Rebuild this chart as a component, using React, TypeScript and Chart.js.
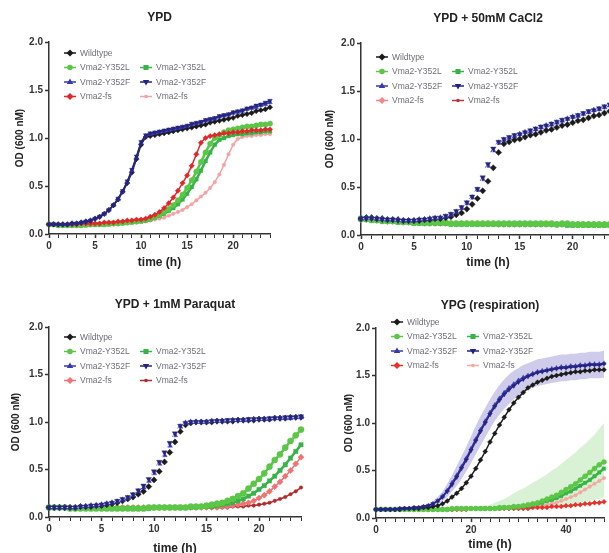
import React, { useEffect, useRef } from 'react';
import { Chart, registerables } from 'chart.js';

Chart.register(...registerables);

// ---------------- time axes ----------------
const HOURS_24 = [0,0.5,1,1.5,2,2.5,3,3.5,4,4.5,5,5.5,6,6.5,7,7.5,8,8.5,9,9.5,10,10.5,11,11.5,12,12.5,13,13.5,14,14.5,15,15.5,16,16.5,17,17.5,18,18.5,19,19.5,20,20.5,21,21.5,22,22.5,23,23.5,24];
const HOURS_48 = [0,1,2,3,4,5,6,7,8,9,10,11,12,13,14,15,16,17,18,19,20,21,22,23,24,25,26,27,28,29,30,31,32,33,34,35,36,37,38,39,40,41,42,43,44,45,46,47,48];

const LEGEND_LABELS = ['Wildtype', 'Vma2-Y352L', 'Vma2-Y352F', 'Vma2-fs'];
const PANEL_TITLES = ['YPD', 'YPD + 50mM CaCl2', 'YPD + 1mM Paraquat', 'YPG (respiration)'];
const X_TITLE = 'time (h)';
const Y_TITLE = 'OD (600 nM)';

// ---------------- YPD ----------------
const YPD_WT = [0.10,0.10,0.10,0.10,0.10,0.11,0.11,0.12,0.13,0.14, 0.16,0.18,0.21,0.25,0.30,0.36,0.44,0.53,0.64,0.78, 0.93,1.01,1.02,1.03,1.04,1.05,1.06,1.07,1.08,1.09, 1.10,1.11,1.12,1.13,1.14,1.16,1.17,1.18,1.19,1.20, 1.21,1.23,1.24,1.25,1.26,1.28,1.29,1.30,1.32];
const YPD_Y352L_A = [0.10,0.10,0.09,0.09,0.09,0.09,0.09,0.09,0.10,0.10, 0.10,0.10,0.10,0.11,0.11,0.11,0.12,0.12,0.13,0.13, 0.14,0.15,0.16,0.18,0.20,0.23,0.26,0.30,0.35,0.41, 0.48,0.56,0.65,0.75,0.85,0.94,1.00,1.03,1.06,1.08, 1.09,1.10,1.11,1.12,1.12,1.13,1.14,1.14,1.15];
const YPD_Y352L_B = [0.10,0.10,0.09,0.09,0.09,0.09,0.09,0.09,0.09,0.10, 0.10,0.10,0.10,0.10,0.11,0.11,0.11,0.12,0.12,0.13, 0.13,0.14,0.15,0.17,0.19,0.21,0.24,0.27,0.31,0.36, 0.42,0.49,0.57,0.66,0.76,0.85,0.93,0.98,1.00,1.02, 1.03,1.04,1.04,1.05,1.05,1.06,1.06,1.07,1.07];
const YPD_Y352F_A = [0.10,0.10,0.10,0.10,0.10,0.11,0.11,0.12,0.13,0.14, 0.16,0.18,0.21,0.25,0.30,0.36,0.44,0.54,0.66,0.80, 0.95,1.02,1.04,1.05,1.06,1.07,1.08,1.09,1.10,1.11, 1.12,1.14,1.15,1.16,1.18,1.19,1.20,1.22,1.23,1.24, 1.26,1.27,1.28,1.30,1.31,1.32,1.34,1.35,1.37];
const YPD_Y352F_B = [0.10,0.10,0.10,0.10,0.10,0.11,0.11,0.12,0.13,0.14, 0.16,0.18,0.21,0.25,0.30,0.37,0.45,0.55,0.67,0.81, 0.96,1.03,1.05,1.06,1.07,1.08,1.09,1.10,1.11,1.12, 1.13,1.15,1.16,1.17,1.19,1.20,1.21,1.23,1.24,1.25, 1.27,1.28,1.29,1.31,1.32,1.34,1.35,1.37,1.39];
const YPD_FS_A = [0.10,0.10,0.10,0.10,0.10,0.10,0.10,0.11,0.11,0.11, 0.11,0.11,0.12,0.12,0.12,0.13,0.13,0.14,0.14,0.15, 0.15,0.16,0.18,0.20,0.23,0.27,0.32,0.38,0.45,0.53, 0.61,0.71,0.83,0.95,1.00,1.02,1.03,1.04,1.05,1.05, 1.06,1.06,1.07,1.07,1.08,1.08,1.08,1.09,1.09];
const YPD_FS_B = [0.10,0.10,0.09,0.09,0.09,0.09,0.09,0.09,0.09,0.09, 0.10,0.10,0.10,0.10,0.10,0.11,0.11,0.11,0.12,0.12, 0.13,0.13,0.14,0.15,0.16,0.17,0.19,0.21,0.23,0.25, 0.28,0.31,0.35,0.39,0.43,0.48,0.54,0.62,0.72,0.83, 0.93,0.99,1.01,1.02,1.02,1.03,1.03,1.04,1.04];

// ---------------- YPD + 50mM CaCl2 ----------------
const CACL2_WT = [0.17,0.18,0.18,0.17,0.17,0.16,0.16,0.16,0.15,0.15, 0.15,0.15,0.16,0.16,0.17,0.17,0.18,0.19,0.21,0.23, 0.27,0.32,0.38,0.46,0.56,0.70,0.86,0.95,0.97,0.99, 1.00,1.02,1.04,1.05,1.07,1.09,1.10,1.12,1.14,1.15, 1.17,1.19,1.20,1.22,1.24,1.25,1.27,1.29,1.30];
const CACL2_Y352L_A = [0.17,0.17,0.16,0.16,0.15,0.15,0.15,0.14,0.14,0.14, 0.13,0.13,0.13,0.13,0.13,0.13,0.13,0.12,0.12,0.12, 0.12,0.12,0.12,0.12,0.12,0.12,0.12,0.12,0.12,0.12, 0.12,0.12,0.12,0.12,0.12,0.12,0.12,0.11,0.12,0.12, 0.11,0.11,0.11,0.11,0.11,0.11,0.11,0.11,0.11];
const CACL2_Y352L_B = [0.16,0.16,0.15,0.15,0.14,0.14,0.14,0.13,0.13,0.13, 0.12,0.12,0.12,0.12,0.12,0.12,0.12,0.11,0.11,0.11, 0.11,0.11,0.11,0.11,0.11,0.11,0.11,0.11,0.11,0.11, 0.11,0.11,0.11,0.11,0.11,0.11,0.11,0.11,0.11,0.10, 0.10,0.10,0.10,0.10,0.10,0.10,0.10,0.10,0.10];
const CACL2_Y352F_A = [0.17,0.18,0.18,0.17,0.17,0.16,0.16,0.16,0.15,0.15, 0.15,0.16,0.16,0.17,0.17,0.18,0.19,0.21,0.24,0.28, 0.33,0.39,0.47,0.58,0.72,0.88,0.96,0.99,1.01,1.03, 1.05,1.07,1.08,1.10,1.12,1.14,1.15,1.17,1.19,1.21, 1.23,1.24,1.26,1.28,1.30,1.31,1.33,1.35,1.37];
const CACL2_Y352F_B = [0.17,0.17,0.17,0.17,0.16,0.16,0.16,0.15,0.15,0.15, 0.15,0.16,0.16,0.17,0.18,0.18,0.20,0.22,0.25,0.29, 0.34,0.40,0.48,0.60,0.74,0.90,0.97,1.00,1.02,1.04, 1.05,1.07,1.09,1.11,1.13,1.14,1.16,1.18,1.20,1.21, 1.23,1.25,1.27,1.29,1.30,1.32,1.34,1.36,1.38];
const CACL2_FS_A = [0.16,0.16,0.16,0.15,0.15,0.14,0.14,0.14,0.13,0.13, 0.13,0.13,0.12,0.12,0.12,0.12,0.12,0.12,0.12,0.12, 0.12,0.12,0.12,0.12,0.12,0.12,0.11,0.11,0.11,0.11, 0.11,0.11,0.11,0.11,0.11,0.11,0.11,0.11,0.11,0.11, 0.11,0.11,0.11,0.11,0.11,0.11,0.11,0.11,0.11];
const CACL2_FS_B = [0.16,0.16,0.15,0.15,0.15,0.14,0.14,0.14,0.13,0.13, 0.13,0.12,0.12,0.12,0.12,0.12,0.12,0.12,0.12,0.12, 0.12,0.12,0.12,0.11,0.11,0.11,0.11,0.11,0.11,0.11, 0.11,0.11,0.11,0.11,0.11,0.11,0.11,0.11,0.11,0.11, 0.11,0.10,0.10,0.10,0.10,0.10,0.10,0.10,0.10];

// ---------------- YPD + 1mM Paraquat ----------------
const PQ_WT = [0.10,0.10,0.10,0.10,0.10,0.10,0.11,0.11,0.11,0.12, 0.12,0.13,0.14,0.15,0.17,0.19,0.21,0.24,0.27,0.32, 0.39,0.48,0.58,0.68,0.79,0.90,0.97,0.99,1.00,1.00, 1.00,1.00,1.01,1.01,1.01,1.01,1.02,1.02,1.02,1.02, 1.03,1.03,1.03,1.04,1.04,1.04,1.05,1.05,1.05];
const PQ_Y352L_A = [0.10,0.10,0.10,0.10,0.09,0.09,0.09,0.09,0.09,0.09, 0.09,0.09,0.09,0.09,0.09,0.09,0.09,0.09,0.09,0.10, 0.10,0.10,0.10,0.10,0.10,0.10,0.10,0.11,0.11,0.11, 0.12,0.13,0.14,0.15,0.17,0.19,0.22,0.25,0.30,0.35, 0.40,0.46,0.53,0.60,0.66,0.73,0.80,0.86,0.92];
const PQ_Y352L_B = [0.10,0.10,0.10,0.10,0.09,0.09,0.09,0.09,0.09,0.09, 0.09,0.09,0.09,0.09,0.09,0.09,0.09,0.09,0.09,0.09, 0.10,0.10,0.10,0.10,0.10,0.10,0.10,0.10,0.10,0.11, 0.11,0.11,0.12,0.13,0.14,0.15,0.17,0.19,0.22,0.25, 0.29,0.33,0.38,0.43,0.49,0.55,0.62,0.69,0.76];
const PQ_Y352F_A = [0.10,0.10,0.10,0.10,0.10,0.10,0.11,0.11,0.12,0.12, 0.13,0.14,0.15,0.16,0.18,0.20,0.23,0.27,0.31,0.38, 0.46,0.56,0.65,0.75,0.86,0.95,0.99,1.00,1.00,1.00, 1.00,1.01,1.01,1.01,1.01,1.02,1.02,1.02,1.02,1.03, 1.03,1.03,1.03,1.04,1.04,1.04,1.04,1.05,1.05];
const PQ_Y352F_B = [0.10,0.10,0.10,0.10,0.10,0.10,0.11,0.11,0.12,0.12, 0.13,0.14,0.15,0.17,0.19,0.21,0.24,0.28,0.33,0.40, 0.48,0.58,0.68,0.78,0.88,0.96,0.99,1.00,1.00,1.00, 1.00,1.01,1.01,1.01,1.02,1.02,1.02,1.02,1.03,1.03, 1.03,1.03,1.04,1.04,1.04,1.05,1.05,1.05,1.06];
const PQ_FS_A = [0.10,0.10,0.10,0.10,0.10,0.10,0.10,0.10,0.10,0.10, 0.10,0.10,0.10,0.10,0.10,0.10,0.10,0.10,0.10,0.10, 0.10,0.10,0.10,0.10,0.10,0.10,0.10,0.10,0.10,0.10, 0.10,0.10,0.10,0.11,0.11,0.12,0.13,0.14,0.15,0.17, 0.20,0.23,0.27,0.32,0.37,0.43,0.49,0.56,0.63];
const PQ_FS_B = [0.10,0.10,0.10,0.10,0.10,0.10,0.10,0.10,0.10,0.10, 0.10,0.10,0.10,0.10,0.10,0.10,0.10,0.10,0.10,0.10, 0.10,0.10,0.10,0.10,0.10,0.10,0.10,0.10,0.10,0.10, 0.10,0.10,0.10,0.10,0.10,0.11,0.11,0.11,0.12,0.12, 0.13,0.14,0.15,0.17,0.19,0.21,0.24,0.27,0.31];

// ---------------- YPG (respiration) ----------------
const YPG_WT = [0.09,0.09,0.09,0.09,0.09,0.09,0.10,0.10,0.10,0.10, 0.11,0.11,0.12,0.13,0.15,0.18,0.22,0.26,0.31,0.37, 0.44,0.52,0.61,0.70,0.80,0.89,0.98,1.06,1.14,1.21, 1.27,1.32,1.37,1.40,1.43,1.45,1.47,1.49,1.50,1.51, 1.52,1.53,1.54,1.54,1.55,1.55,1.56,1.56,1.56];
const YPG_Y352L_A = [0.09,0.09,0.09,0.09,0.09,0.09,0.09,0.09,0.09,0.09, 0.09,0.09,0.09,0.09,0.09,0.09,0.10,0.10,0.10,0.10, 0.10,0.10,0.10,0.10,0.10,0.10,0.11,0.11,0.11,0.12, 0.12,0.13,0.14,0.15,0.16,0.18,0.20,0.22,0.24,0.27, 0.30,0.33,0.36,0.40,0.44,0.48,0.52,0.56,0.59];
const YPG_Y352L_B = [0.09,0.09,0.09,0.09,0.09,0.09,0.09,0.09,0.09,0.09, 0.09,0.09,0.09,0.09,0.09,0.09,0.09,0.10,0.10,0.10, 0.10,0.10,0.10,0.10,0.10,0.10,0.10,0.11,0.11,0.11, 0.12,0.12,0.13,0.14,0.15,0.16,0.18,0.19,0.21,0.23, 0.26,0.28,0.31,0.34,0.37,0.40,0.44,0.48,0.52];
const YPG_Y352L_UPPER = [0.10,0.10,0.10,0.10,0.10,0.10,0.10,0.10,0.10,0.10, 0.10,0.10,0.10,0.10,0.10,0.10,0.11,0.11,0.11,0.11, 0.11,0.11,0.12,0.13,0.14,0.16,0.18,0.20,0.23,0.26, 0.29,0.31,0.34,0.37,0.40,0.43,0.46,0.50,0.53,0.57, 0.61,0.65,0.69,0.74,0.78,0.83,0.88,0.94,1.00];
const YPG_Y352L_LOWER = [0.08,0.08,0.08,0.08,0.08,0.08,0.08,0.08,0.08,0.08, 0.08,0.08,0.08,0.08,0.08,0.08,0.09,0.09,0.09,0.09, 0.09,0.09,0.09,0.09,0.09,0.09,0.09,0.09,0.09,0.09, 0.09,0.09,0.10,0.10,0.10,0.11,0.11,0.12,0.12,0.13, 0.13,0.14,0.15,0.16,0.17,0.18,0.19,0.20,0.22];
const YPG_Y352F_A = [0.09,0.09,0.09,0.09,0.09,0.10,0.10,0.10,0.11,0.11, 0.12,0.13,0.15,0.18,0.23,0.29,0.37,0.45,0.54,0.63, 0.73,0.83,0.93,1.02,1.11,1.19,1.26,1.32,1.37,1.41, 1.45,1.48,1.50,1.52,1.54,1.55,1.56,1.57,1.58,1.59, 1.59,1.60,1.60,1.61,1.61,1.62,1.62,1.62,1.63];
const YPG_Y352F_B = [0.09,0.09,0.09,0.09,0.09,0.10,0.10,0.10,0.11,0.11, 0.12,0.13,0.15,0.18,0.22,0.28,0.35,0.43,0.52,0.61, 0.71,0.81,0.91,1.00,1.09,1.17,1.24,1.30,1.35,1.39, 1.43,1.46,1.49,1.51,1.53,1.54,1.55,1.56,1.57,1.58, 1.58,1.59,1.59,1.60,1.60,1.61,1.61,1.61,1.62];
const YPG_Y352F_UPPER = [0.10,0.10,0.10,0.10,0.10,0.11,0.11,0.11,0.12,0.12, 0.13,0.15,0.18,0.22,0.28,0.36,0.45,0.55,0.65,0.75, 0.86,0.97,1.07,1.16,1.25,1.33,1.40,1.46,1.51,1.55, 1.58,1.61,1.63,1.65,1.67,1.68,1.69,1.70,1.71,1.72, 1.72,1.73,1.73,1.74,1.74,1.75,1.75,1.75,1.76];
const YPG_Y352F_LOWER = [0.08,0.08,0.08,0.08,0.08,0.09,0.09,0.09,0.10,0.10, 0.11,0.12,0.13,0.15,0.18,0.22,0.28,0.34,0.41,0.49, 0.58,0.67,0.76,0.85,0.94,1.02,1.09,1.15,1.20,1.25, 1.29,1.32,1.35,1.37,1.39,1.40,1.41,1.42,1.43,1.44, 1.44,1.45,1.45,1.46,1.46,1.47,1.47,1.47,1.48];
const YPG_FS_A = [0.09,0.09,0.09,0.09,0.09,0.09,0.09,0.09,0.09,0.09, 0.09,0.09,0.09,0.09,0.09,0.09,0.09,0.09,0.09,0.09, 0.10,0.10,0.10,0.10,0.10,0.10,0.10,0.10,0.10,0.10, 0.10,0.10,0.10,0.11,0.11,0.11,0.11,0.12,0.12,0.12, 0.13,0.13,0.14,0.14,0.15,0.15,0.16,0.16,0.17];
const YPG_FS_B = [0.09,0.09,0.09,0.09,0.09,0.09,0.09,0.09,0.09,0.09, 0.09,0.09,0.09,0.09,0.09,0.09,0.09,0.09,0.09,0.09, 0.10,0.10,0.10,0.10,0.10,0.10,0.10,0.10,0.10,0.10, 0.10,0.11,0.11,0.12,0.12,0.13,0.14,0.15,0.16,0.18, 0.20,0.22,0.24,0.27,0.30,0.33,0.36,0.39,0.42];

// ---------------- styling ----------------
const FONT = '"Liberation Sans", Arial, Helvetica, sans-serif';
const AXIS = '#333333';
const BLACK = '#1b1b1b';
const GREEN_A = '#5cc646';
const GREEN_B = '#38b34a';
const BLUE_A = '#3838b0';
const BLUE_B = '#25257f';
const WHITE_LINE = 'rgba(255,255,255,0.9)';

type Series = {
  label: string; data: number[]; color: string; lineColor?: string;
  style: string; rotation?: number; order: number; col: number; row: number; width?: number; radius?: number;
};
type Band = { upper: number[]; lower: number[]; color: string };
type Panel = {
  title: string; hours: number[]; xMax: number; xStep: number; xLabelEvery: number;
  series: Series[]; bands: Band[];
  box: { left: number; top: number; w: number; h: number };
  area: { L: number; T: number; R: number; B: number };
  xH: number; yTitlePad: number; titleDy: number; legendDy: number; pointR: number;
};

function makeSeries(
  wt: number[], la: number[], lb: number[], fa: number[], fb: number[], sa: number[], sb: number[],
  fsA: string, fsB: string, whiteLines: boolean, order: number[]
): Series[] {
  return [
    { label: LEGEND_LABELS[0], data: wt, color: BLACK, lineColor: whiteLines ? WHITE_LINE : undefined, style: 'rectRot', order: order[0], col: 0, row: 0 },
    { label: LEGEND_LABELS[1], data: la, color: GREEN_A, style: 'circle', order: order[1], col: 0, row: 1, width: 2.5 },
    { label: LEGEND_LABELS[1], data: lb, color: GREEN_B, style: 'rect', order: order[2], col: 1, row: 1, width: 2.5 },
    { label: LEGEND_LABELS[2], data: fa, color: BLUE_A, lineColor: whiteLines ? WHITE_LINE : undefined, style: 'triangle', order: order[3], col: 0, row: 2 },
    { label: LEGEND_LABELS[2], data: fb, color: BLUE_B, lineColor: whiteLines ? WHITE_LINE : undefined, style: 'triangle', rotation: 180, order: order[4], col: 1, row: 2 },
    { label: LEGEND_LABELS[3], data: sa, color: fsA, style: 'rectRot', order: order[5], col: 0, row: 3 },
    { label: LEGEND_LABELS[3], data: sb, color: fsB, style: 'circle', order: order[6], col: 1, row: 3, radius: 1.8 },
  ];
}

const PANELS: Panel[] = [
  {
    title: PANEL_TITLES[0], hours: HOURS_24, xMax: 24, xStep: 1, xLabelEvery: 5,
    series: makeSeries(YPD_WT, YPD_Y352L_A, YPD_Y352L_B, YPD_Y352F_A, YPD_Y352F_B, YPD_FS_A, YPD_FS_B, '#e2262a', '#f4a3a3', false, [3, 5, 6, 2, 1, 4, 7]),
    bands: [],
    box: { left: 0, top: 0, w: 300, h: 276 }, area: { L: 49, T: 42, R: 270, B: 234 },
    xH: 36, yTitlePad: 5, titleDy: 24, legendDy: 11, pointR: 2.7,
  },
  {
    title: PANEL_TITLES[1], hours: HOURS_24, xMax: 24, xStep: 1, xLabelEvery: 5,
    series: makeSeries(CACL2_WT, CACL2_Y352L_A, CACL2_Y352L_B, CACL2_Y352F_A, CACL2_Y352F_B, CACL2_FS_A, CACL2_FS_B, '#f08a8a', '#b5393a', true, [3, 4, 5, 2, 1, 6, 7]),
    bands: [],
    box: { left: 310, top: 0, w: 320, h: 276 }, area: { L: 361, T: 43, R: 615, B: 235 },
    xH: 35, yTitlePad: 3, titleDy: 24, legendDy: 14, pointR: 3.1,
  },
  {
    title: PANEL_TITLES[2], hours: HOURS_24, xMax: 24, xStep: 1, xLabelEvery: 5,
    series: makeSeries(PQ_WT, PQ_Y352L_A, PQ_Y352L_B, PQ_Y352F_A, PQ_Y352F_B, PQ_FS_A, PQ_FS_B, '#f07272', '#b02a2c', true, [3, 4, 5, 2, 1, 6, 7]),
    bands: [],
    box: { left: 0, top: 280, w: 305, h: 280 }, area: { L: 49, T: 327, R: 301, B: 517 },
    xH: 39, yTitlePad: 1, titleDy: 22, legendDy: 10, pointR: 3.1,
  },
  {
    title: PANEL_TITLES[3], hours: HOURS_48, xMax: 48, xStep: 2, xLabelEvery: 20,
    series: makeSeries(YPG_WT, YPG_Y352L_A, YPG_Y352L_B, YPG_Y352F_A, YPG_Y352F_B, YPG_FS_A, YPG_FS_B, '#e8302a', '#f3a8a0', false, [3, 4, 5, 2, 1, 6, 7]),
    bands: [
      { upper: YPG_Y352F_UPPER, lower: YPG_Y352F_LOWER, color: 'rgba(125,120,200,0.38)' },
      { upper: YPG_Y352L_UPPER, lower: YPG_Y352L_LOWER, color: 'rgba(130,210,115,0.30)' },
    ],
    box: { left: 310, top: 280, w: 299, h: 273 }, area: { L: 376, T: 328, R: 604, B: 518 },
    xH: 34, yTitlePad: 7, titleDy: 22, legendDy: -6, pointR: 2.5,
  },
];

function drawMarker(ctx: CanvasRenderingContext2D, style: string, rotation: number, x: number, y: number, r: number, color: string) {
  ctx.save();
  ctx.fillStyle = color;
  ctx.translate(x, y);
  ctx.rotate((rotation * Math.PI) / 180);
  ctx.beginPath();
  if (style === 'circle') ctx.arc(0, 0, r, 0, Math.PI * 2);
  else if (style === 'rect') ctx.rect(-r * 0.9, -r * 0.9, r * 1.8, r * 1.8);
  else if (style === 'rectRot') { ctx.moveTo(0, -r * 1.25); ctx.lineTo(r * 1.25, 0); ctx.lineTo(0, r * 1.25); ctx.lineTo(-r * 1.25, 0); ctx.closePath(); }
  else if (style === 'triangle') { ctx.moveTo(0, -r * 1.25); ctx.lineTo(r * 1.15, r * 0.75); ctx.lineTo(-r * 1.15, r * 0.75); ctx.closePath(); }
  ctx.fill();
  ctx.restore();
}

function decoPlugin(panel: Panel) {
  return {
    id: 'deco',
    afterDraw(chart: any) {
      const { ctx, chartArea } = chart;
      ctx.save();
      ctx.font = `bold 12px ${FONT}`;
      ctx.fillStyle = '#222';
      ctx.textAlign = 'center';
      ctx.textBaseline = 'middle';
      ctx.fillText(panel.title, (chartArea.left + chartArea.right) / 2, chartArea.top - panel.titleDy);
      ctx.font = `8.5px ${FONT}`;
      ctx.textAlign = 'left';
      panel.series.forEach((s) => {
        const mx = chartArea.left + (s.col === 0 ? 21 : 97);
        const y = chartArea.top + panel.legendDy + s.row * 14.5;
        ctx.strokeStyle = s.color;
        ctx.lineWidth = 1.5;
        ctx.beginPath();
        ctx.moveTo(mx - 6, y);
        ctx.lineTo(mx + 6, y);
        ctx.stroke();
        drawMarker(ctx, s.style, s.rotation ?? 0, mx, y, s.radius ?? 2.8, s.color);
        ctx.fillStyle = '#6e6e78';
        ctx.fillText(s.label, mx + 10, y + 0.5);
      });
      ctx.restore();
    },
  };
}

function PanelChart({ panel }: { panel: Panel }) {
  const ref = useRef<HTMLCanvasElement>(null);
  useEffect(() => {
    const { box, area } = panel;
    const datasets: any[] = [];
    panel.series.forEach((s) => {
      datasets.push({
        label: s.label,
        data: panel.hours.map((t, i) => ({ x: t, y: s.data[i] })),
        borderColor: s.lineColor ?? s.color,
        borderWidth: s.lineColor ? 1 : s.width ?? 1.5,
        backgroundColor: s.color,
        pointStyle: s.style,
        pointRotation: s.rotation ?? 0,
        pointRadius: s.radius ? Math.min(s.radius, panel.pointR) : panel.pointR,
        pointBackgroundColor: s.color,
        pointBorderColor: s.color,
        pointBorderWidth: 0.4,
        order: s.order,
        fill: false,
        tension: 0,
        clip: 6,
      });
    });
    panel.bands.forEach((b, k) => {
      datasets.push({
        data: panel.hours.map((t, i) => ({ x: t, y: b.upper[i] })),
        borderWidth: 0, pointRadius: 0, backgroundColor: b.color, borderColor: 'rgba(0,0,0,0)',
        fill: '+1', order: 20 + k * 2,
      });
      datasets.push({
        data: panel.hours.map((t, i) => ({ x: t, y: b.lower[i] })),
        borderWidth: 0, pointRadius: 0, borderColor: 'rgba(0,0,0,0)', fill: false, order: 21 + k * 2,
      });
    });
    const yW = 40;
    const chart = new Chart(ref.current as HTMLCanvasElement, {
      type: 'line',
      data: { datasets },
      plugins: [decoPlugin(panel)],
      options: {
        animation: false,
        responsive: false,
        devicePixelRatio: 1,
        events: [],
        layout: {
          autoPadding: false,
          padding: {
            left: area.L - box.left - yW,
            top: area.T - box.top,
            right: box.left + box.w - area.R,
            bottom: box.top + box.h - area.B - panel.xH,
          },
        },
        plugins: { legend: { display: false }, tooltip: { enabled: false }, title: { display: false } },
        scales: {
          x: {
            type: 'linear', min: 0, max: panel.xMax,
            border: { display: true, color: AXIS, width: 1.5 },
            grid: {
              drawOnChartArea: false, drawTicks: true, tickLength: 4, tickColor: AXIS,
              tickWidth: (c: any) => (c.tick && c.tick.value % panel.xLabelEvery === 0 ? 1.5 : 1),
            },
            ticks: {
              stepSize: panel.xStep, autoSkip: false, maxRotation: 0, includeBounds: false,
              padding: 2, color: AXIS, font: { family: FONT, size: 10, weight: 'bold' },
              callback: (v: any) => (Number(v) % panel.xLabelEvery === 0 ? String(v) : ''),
            },
            title: { display: true, text: X_TITLE, color: '#222', font: { family: FONT, size: 12, weight: 'bold' }, padding: { top: 0, bottom: 0 } },
            afterFit: (s: any) => { s.height = panel.xH; },
          },
          y: {
            type: 'linear', min: 0, max: 2,
            border: { display: true, color: AXIS, width: 1.5 },
            grid: { drawOnChartArea: false, drawTicks: true, tickLength: 4, tickColor: AXIS, tickWidth: 1.5 },
            ticks: {
              stepSize: 0.5, padding: 2, color: AXIS, font: { family: FONT, size: 10, weight: 'bold' },
              callback: (v: any) => Number(v).toFixed(1),
            },
            title: { display: true, text: Y_TITLE, color: '#222', font: { family: FONT, size: 10, weight: 'bold' }, padding: { top: panel.yTitlePad, bottom: 0 } },
            afterFit: (s: any) => { s.width = yW; },
          },
        },
      } as any,
    });
    return () => chart.destroy();
  }, [panel]);
  const { box } = panel;
  return (
    <canvas
      ref={ref}
      width={box.w}
      height={box.h}
      style={{ position: 'absolute', left: box.left, top: box.top, width: box.w, height: box.h }}
    />
  );
}

export default function App() {
  return (
    <div style={{ position: 'fixed', left: 0, top: 0, width: 609, height: 553, overflow: 'hidden', background: '#ffffff' }}>
      {PANELS.map((p, i) => (
        <PanelChart key={i} panel={p} />
      ))}
    </div>
  );
}
